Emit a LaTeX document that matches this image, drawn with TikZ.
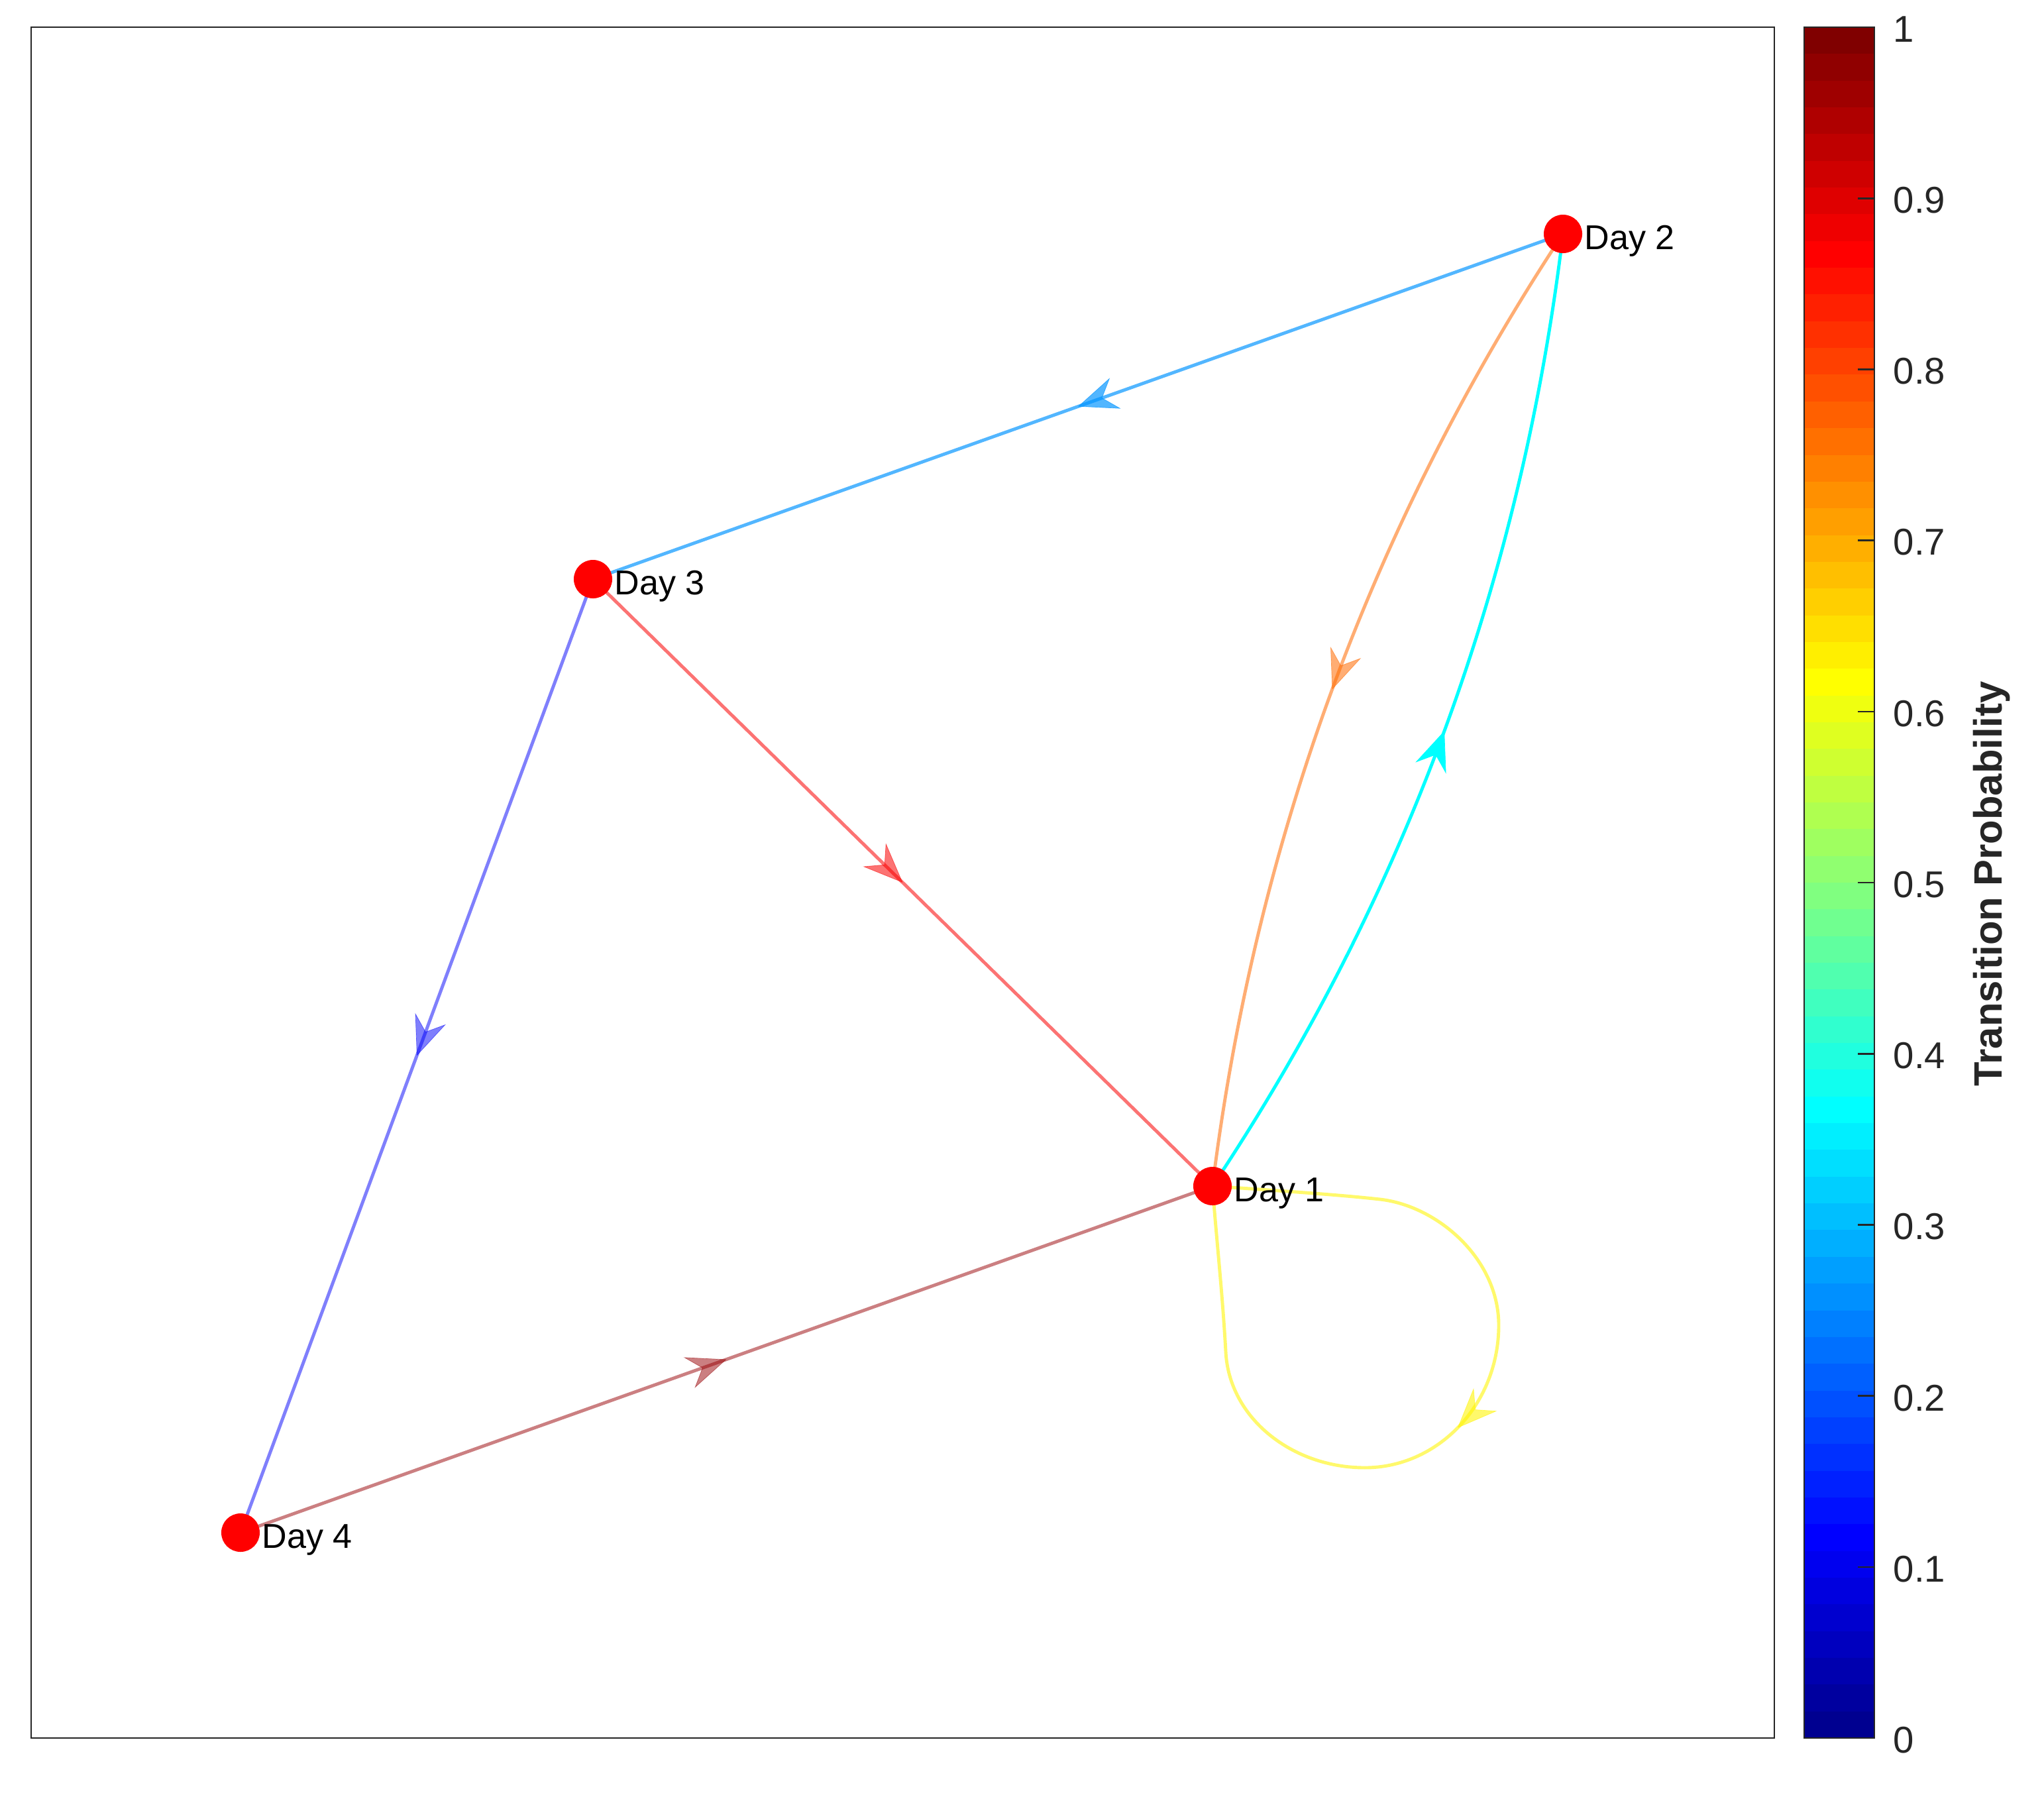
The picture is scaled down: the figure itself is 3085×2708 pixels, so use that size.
\documentclass[tikz,border=0pt]{standalone}
\usepackage{fontspec}
\setmainfont{Liberation Sans}
\usetikzlibrary{arrows.meta,decorations.markings}
\definecolor{axgray}{HTML}{262626}
\definecolor{cA}{rgb}{0,0.58,1}
\definecolor{cB}{rgb}{0.98,0,0}
\definecolor{cC}{rgb}{0,0,0.98}
\definecolor{cD}{rgb}{0.6,0,0.02}
\definecolor{cE}{rgb}{1,0.42,0}
\definecolor{cF}{rgb}{0,1,1}
\definecolor{cG}{rgb}{1,0.96,0}
\tikzset{
  tedge/.style={line width=1.4pt, line cap=round},
  midarrow/.style={postaction={decorate,decoration={markings,mark=at position 0.5 with {\arrow{Stealth[length=17pt,width=14pt,inset=6pt,line width=0.2pt]}}}}},
  daynode/.style={circle, fill=red, draw=none, inner sep=0pt, minimum size=0.58cm},
  daylabel/.style={anchor=base west, font=\fontsize{14.8}{17}\selectfont, inner sep=0pt},
  ticklabel/.style={anchor=west, font=\fontsize{16}{19}\selectfont, text=axgray, inner sep=0pt},
  axline/.style={draw=axgray, line width=0.75pt},
}
\begin{document}
\begin{tikzpicture}[x=0.01cm,y=-0.01cm]
\fill[white] (0,0) rectangle (3085,2708);
\useasboundingbox (0,0) rectangle (3085,2708);
% axes box
\draw[axline] (47,41) rectangle (2678,2623);
% node positions
\coordinate (p1) at (1830,1790);
\coordinate (p2) at (2359,353);
\coordinate (p3) at (895,874);
\coordinate (p4) at (363,2313);
% edges
\draw[tedge, midarrow, draw=cA, opacity=0.68] (p2) -- (p3);
\draw[tedge, midarrow, draw=cB, opacity=0.55] (p3) -- (p1);
\draw[tedge, midarrow, draw=cC, opacity=0.5] (p3) -- (p4);
\draw[tedge, midarrow, draw=cD, opacity=0.5] (p4) -- (p1);
\draw[tedge, midarrow, draw=cE, opacity=0.55] (p2) .. controls (2070,791) and (1895,1270) .. (p1);
\draw[tedge, midarrow, draw=cF, opacity=1] (p1) .. controls (2121,1353) and (2296,874) .. (p2);
\draw[tedge, midarrow, draw=cG, opacity=0.58] (p1) .. controls (1930,1797) and (2020,1803) .. (2083,1810)
   .. controls (2170,1820) and (2262,1900) .. (2262,2000)
   .. controls (2262,2120) and (2170,2215) .. (2060,2215)
   .. controls (1950,2215) and (1855,2140) .. (1850,2040)
   .. controls (1845,1950) and (1835,1860) .. (p1);
% nodes
\node[daynode] (n1) at (p1) {};
\node[daynode] (n2) at (p2) {};
\node[daynode] (n3) at (p3) {};
\node[daynode] (n4) at (p4) {};
\node[daylabel] (l1) at ([shift={(32,23)}]p1) {Day 1};
\node[daylabel] (l2) at ([shift={(32,23)}]p2) {Day 2};
\node[daylabel] (l3) at ([shift={(32,23)}]p3) {Day 3};
\node[daylabel] (l4) at ([shift={(32,23)}]p4) {Day 4};
% colorbar
\foreach \i in {0,...,63}{
  \pgfmathsetmacro\jt{(\i+1)/64}
  \pgfmathsetmacro\jr{max(0,min(1,1.5-abs(4*\jt-3)))}
  \pgfmathsetmacro\jg{max(0,min(1,1.5-abs(4*\jt-2)))}
  \pgfmathsetmacro\jb{max(0,min(1,1.5-abs(4*\jt-1)))}
  \definecolor{jc}{rgb}{\jr,\jg,\jb}
  \fill[jc] (2723,{2623-\i*40.344}) rectangle (2829,{2623-(\i+1)*40.344-1});
}
\draw[axline] (2723,41) rectangle (2829,2623);
\foreach \v in {1,...,9}{
  \draw[axline] (2829,{2623-\v*258.2}) -- ++(-25,0);
}
\foreach \v/\t in {0/0,1/0.1,2/0.2,3/0.3,4/0.4,5/0.5,6/0.6,7/0.7,8/0.8,9/0.9,10/1}{
  \node[ticklabel] (tl\v) at (2857,{2623-\v*258.2+3}) {\t};
}
\node[rotate=90, font=\bfseries\fontsize{17}{20}\selectfont, text=axgray, inner sep=0pt] (cblabel) at (3006,1334) {Transition Probability};
\end{tikzpicture}
\end{document}
